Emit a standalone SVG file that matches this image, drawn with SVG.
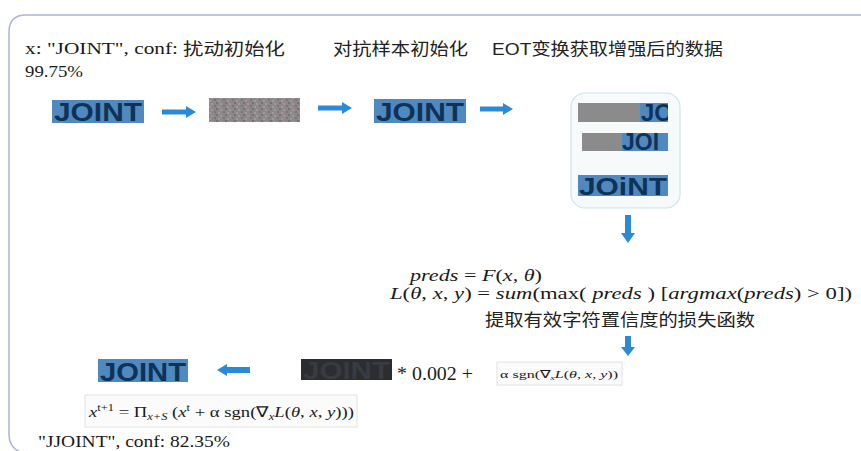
<svg xmlns="http://www.w3.org/2000/svg" width="861" height="451" viewBox="0 0 861 451">
<defs>
<style>
.cn{font-family:"Liberation Sans","Noto Sans CJK SC",sans-serif;font-size:17px;fill:#222}
.serif{font-family:"Liberation Serif","Times New Roman",serif;fill:#1a1a1a}
.it{font-style:italic}
.joint{font-family:"Liberation Sans",Arial,sans-serif;font-weight:bold;fill:#0f3357}
.blue{fill:#5089c0}
.arrow{fill:#2b8ad6}
.gray{fill:#8b8b8b}
.fbox{fill:#fbfbfb;stroke:#e2e2e2;stroke-width:1}
</style>
<pattern id="noise" width="9" height="6" patternUnits="userSpaceOnUse">
<rect width="9" height="6" fill="#8c8789"/>
<rect x="0" y="0" width="2" height="2" fill="#767174"/>
<rect x="4" y="1" width="2" height="2" fill="#a3979b"/>
<rect x="7" y="3" width="2" height="2" fill="#7f747b"/>
<rect x="2" y="4" width="2" height="2" fill="#9e9a9c"/>
<rect x="5" y="4" width="1" height="1" fill="#a07f8c"/>
</pattern>
<clipPath id="c1"><rect x="640" y="103" width="28" height="19"/></clipPath>
<clipPath id="c2"><rect x="620" y="133" width="48" height="18"/></clipPath>
<clipPath id="c3"><rect x="578" y="175" width="90" height="21"/></clipPath>
</defs>
<rect width="861" height="451" fill="#ffffff"/>
<path d="M 870 15 L 26 15 Q 9 15 9 32 L 9 434 Q 9 451 26 453" fill="none" stroke="#aeb3da" stroke-width="1.5"/>

<g id="label-x">
<text class="serif" x="25" y="54" font-size="16" textLength="153" lengthAdjust="spacingAndGlyphs">x: "JOINT", conf:</text>
<text class="serif" x="25" y="77" font-size="17" textLength="58" lengthAdjust="spacingAndGlyphs">99.75%</text>
</g>
<g id="label-init"><text class="cn" x="183" y="55" textLength="102" lengthAdjust="spacingAndGlyphs">扰动初始化</text></g>
<g id="label-adv"><text class="cn" x="333" y="55" textLength="135" lengthAdjust="spacingAndGlyphs">对抗样本初始化</text></g>
<g id="label-eot"><text class="cn" x="492" y="55" textLength="231" lengthAdjust="spacingAndGlyphs">EOT变换获取增强后的数据</text></g>

<g id="img-original">
<rect class="blue" x="52" y="100" width="92" height="23"/>
<text class="joint" x="54" y="121" font-size="26" textLength="88" lengthAdjust="spacingAndGlyphs">JOINT</text>
</g>
<g id="img-noise">
<rect x="209" y="98" width="91" height="24" fill="url(#noise)"/>
</g>
<g id="img-adv">
<rect class="blue" x="374" y="99" width="92" height="24"/>
<text class="joint" x="376" y="121" font-size="26" textLength="88" lengthAdjust="spacingAndGlyphs">JOINT</text>
</g>
<g id="eot-box">
<rect x="571" y="93" width="109" height="115" rx="14" fill="#f6fafb" stroke="#cfe4e8" stroke-width="1.2"/>
<rect class="gray" x="578" y="103" width="62" height="19"/>
<rect class="blue" x="640" y="103" width="28" height="19"/>
<text class="joint" x="641" y="121" font-size="24" clip-path="url(#c1)">JO</text>
<rect class="gray" x="582" y="133" width="40" height="18"/>
<rect class="blue" x="622" y="133" width="46" height="18"/>
<text class="joint" x="622" y="150" font-size="23" clip-path="url(#c2)">JOI</text>
<rect class="blue" x="578" y="175" width="90" height="21"/>
<text class="joint" x="579" y="195" font-size="24" textLength="88" lengthAdjust="spacingAndGlyphs" clip-path="url(#c3)">JOiNT</text>
</g>

<g id="loss">
<text class="serif" x="410" y="281" font-size="17" textLength="132" lengthAdjust="spacingAndGlyphs"><tspan class="it">preds</tspan> = <tspan class="it">F</tspan>(<tspan class="it">x</tspan>, <tspan class="it">θ</tspan>)</text>
<text class="serif" x="390" y="299" font-size="17" textLength="462" lengthAdjust="spacingAndGlyphs"><tspan class="it">L</tspan>(<tspan class="it">θ</tspan>, <tspan class="it">x</tspan>, <tspan class="it">y</tspan>) = <tspan class="it">sum</tspan>(max( <tspan class="it">preds</tspan> )  [<tspan class="it">argmax</tspan>(<tspan class="it">preds</tspan>) &gt; 0])</text>
<text class="cn" x="485" y="326" font-size="18" textLength="270" lengthAdjust="spacingAndGlyphs">提取有效字符置信度的损失函数</text>
</g>

<g id="img-result">
<rect class="blue" x="98" y="359" width="90" height="23"/>
<text class="joint" x="100" y="381" font-size="26" textLength="86" lengthAdjust="spacingAndGlyphs">JOINT</text>
</g>
<g id="img-perturb">
<rect x="301" y="359" width="91" height="21" fill="#2b2d31"/>
<text x="303" y="379" font-family="Liberation Sans, Arial, sans-serif" font-weight="bold" font-size="24" fill="#383b40" textLength="87" lengthAdjust="spacingAndGlyphs">JOINT</text>
</g>
<g id="scale">
<text class="serif" x="397" y="380" font-size="18" textLength="76" lengthAdjust="spacingAndGlyphs">* 0.002 +</text>
</g>
<g id="grad-box">
<rect class="fbox" x="497" y="362" width="125" height="23"/>
<text class="serif" x="500" y="378" font-size="11" fill="#444" textLength="118" lengthAdjust="spacingAndGlyphs">α sgn(∇<tspan class="it" font-size="7" dy="2">x</tspan><tspan class="it" dy="-2">L</tspan>(<tspan class="it">θ</tspan>, <tspan class="it">x</tspan>, <tspan class="it">y</tspan>))</text>
</g>
<g id="update-box">
<rect class="fbox" x="85" y="395" width="272" height="32"/>
<text class="serif" x="89" y="417" font-size="15" fill="#333" textLength="265" lengthAdjust="spacingAndGlyphs"><tspan class="it">x</tspan><tspan font-size="10" dy="-6">t+1</tspan><tspan dy="6"> = Π</tspan><tspan class="it" font-size="10" dy="3">x+S</tspan><tspan dy="-3"> (</tspan><tspan class="it">x</tspan><tspan font-size="10" dy="-6">t</tspan><tspan dy="6"> + α sgn(∇</tspan><tspan class="it" font-size="10" dy="3">x</tspan><tspan class="it" dy="-3">L</tspan>(<tspan class="it">θ</tspan>, <tspan class="it">x</tspan>, <tspan class="it">y</tspan>)))</text>
</g>
<g id="label-result">
<text class="serif" x="38" y="447" font-size="16" textLength="192" lengthAdjust="spacingAndGlyphs">"JJOINT", conf: 82.35%</text>
</g>

<g id="connectors" class="arrow">
<polygon points="162,109.5 186,109.5 186,106 196,112 186,118 186,114.5 162,114.5"/>
<polygon points="318,105.5 342,105.5 342,102 352,108 342,114 342,110.5 318,110.5"/>
<polygon points="480,106.5 503,106.5 503,103 513,109 503,115 503,111.5 480,111.5"/>
<polygon points="625,215 631,215 631,233 635,233 628,243 621,233 625,233"/>
<polygon points="625,336 631,336 631,347 635,347 628,356 621,347 625,347"/>
<polygon points="250,367 227,367 227,364 217,370 227,376 227,373 250,373"/>
</g>
</svg>
